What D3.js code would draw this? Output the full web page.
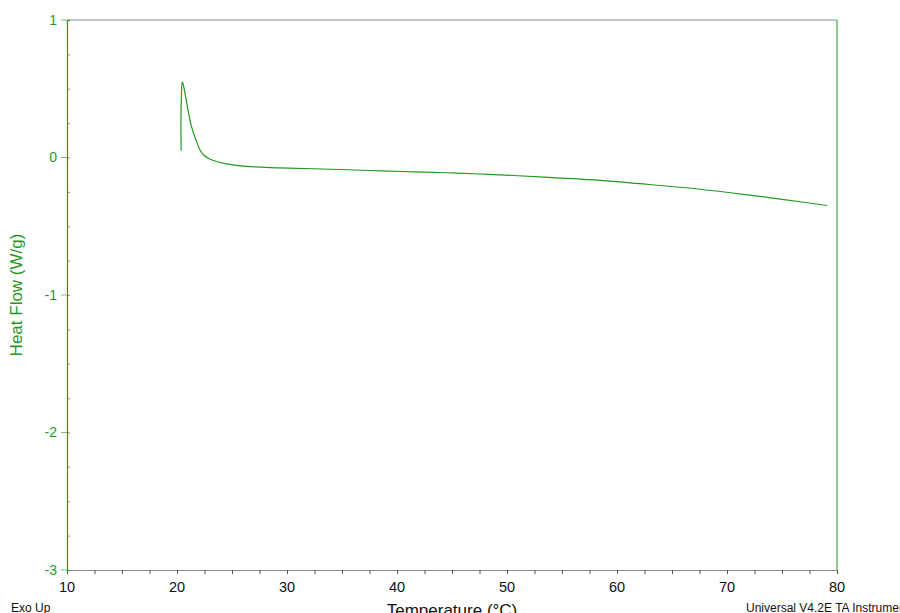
<!DOCTYPE html>
<html>
<head>
<meta charset="utf-8">
<script src="https://cdn.jsdelivr.net/npm/d3@7"></script>
<style>
  html, body { margin: 0; padding: 0; background: #fff; overflow: hidden; }
  svg { display: block; font-family: Arial, "Liberation Sans", sans-serif; }
</style>
</head>
<body>
<svg id="chart" width="900" height="613"></svg>
<script>
// DSC trace — temperature (°C) vs heat flow (W/g)
const temperature = [20.38, 20.36, 20.40, 20.48, 20.6, 20.9, 21.3, 21.8, 22.1, 22.4, 22.8, 23.3, 24.5, 26.3, 29.4, 32.4, 35.5, 38.5, 41.5, 44.5, 47.5, 50.6, 54.5, 58.5, 62, 66, 70.5, 75, 79.1];
const heatFlow    = [0.05, 0.25, 0.44, 0.55, 0.52, 0.39, 0.23, 0.11, 0.055, 0.02, -0.004, -0.022, -0.046, -0.065, -0.075, -0.082, -0.089, -0.097, -0.104, -0.111, -0.12, -0.131, -0.148, -0.167, -0.19, -0.218, -0.258, -0.304, -0.349];

const xTicks = [10, 20, 30, 40, 50, 60, 70, 80];
const yTicks = [1, 0, -1, -2, -3];

const GREEN = '#1f9a1f';
const GRAY = '#8c8c8c';

const svg = d3.select('#chart');
const margin = { top: 20, left: 67, right: 63, bottom: 43 };
const W = 900, H = 613;
const iW = W - margin.left - margin.right, iH = H - margin.top - margin.bottom;

const x = d3.scaleLinear().domain([10, 80]).range([margin.left, margin.left + iW]);
const y = d3.scaleLinear().domain([-3, 1]).range([margin.top + iH, margin.top]);

const g = svg.append('g');

// 테두리: 위/아래 회색, 좌/우 녹색
g.append('line').attr('x1', x(10)).attr('x2', x(80)).attr('y1', y(1)).attr('y2', y(1)).attr('stroke', GRAY).attr('stroke-width', 1.2);
g.append('line').attr('x1', x(80)).attr('x2', x(80)).attr('y1', y(1)).attr('y2', y(-3)).attr('stroke', GREEN).attr('stroke-width', 1);

// X axis
const xAxis = g.append('g').attr('transform', `translate(0,${y(-3)})`);
xAxis.call(d3.axisBottom(x).tickValues(d3.range(10, 80.01, 2.5)).tickSize(4).tickFormat(''));
xAxis.select('.domain').attr('stroke', GRAY).attr('stroke-width', 1.2);
xAxis.selectAll('.tick line').attr('stroke', '#555');
xAxis.selectAll('.lbl').data(xTicks).join('text')
  .attr('x', d => x(d)).attr('y', 22).attr('text-anchor', 'middle')
  .attr('fill', '#111').attr('font-size', 14.5).text(d => d);

// Y axis
const yAxis = g.append('g').attr('transform', `translate(${x(10)},0)`);
yAxis.call(d3.axisRight(y).tickValues(d3.range(-3, 1.01, 0.25)).tickSize(3).tickFormat(''));
yAxis.select('.domain').attr('stroke', GREEN).attr('stroke-width', 1.2);
yAxis.selectAll('.tick line').attr('stroke', GREEN).attr('stroke-opacity', 0.7);
yAxis.selectAll('.maj').data(yTicks).join('line')
  .attr('x1', -6).attr('x2', 0).attr('y1', d => y(d)).attr('y2', d => y(d))
  .attr('stroke', GREEN).attr('stroke-opacity', 0.6);
yAxis.selectAll('.lbl').data(yTicks).join('text')
  .attr('x', -10).attr('y', d => y(d)).attr('dy', '0.35em').attr('text-anchor', 'end')
  .attr('fill', GREEN).attr('font-size', 14).text(d => d);

// Curve
const pts = temperature.map((t, i) => [t, heatFlow[i]]);
g.append('path').datum(pts)
  .attr('d', d3.line().x(d => x(d[0])).y(d => y(d[1])).curve(d3.curveCatmullRom.alpha(0.5)))
  .attr('fill', 'none').attr('stroke', GREEN).attr('stroke-width', 1.2);

// Labels
svg.append('text').attr('transform', `translate(22,${y(-1)}) rotate(-90)`)
  .attr('text-anchor', 'middle').attr('fill', GREEN).attr('font-size', 17).text('Heat Flow (W/g)');
svg.append('text').attr('x', 452).attr('y', 616).attr('text-anchor', 'middle')
  .attr('fill', '#111').attr('font-size', 17).text('Temperature (°C)');
svg.append('text').attr('x', 11).attr('y', 612)
  .attr('fill', '#111').attr('font-size', 12).text('Exo Up');
svg.append('text').attr('x', 746).attr('y', 612)
  .attr('fill', '#111').attr('font-size', 12).text('Universal V4.2E TA Instruments');
</script>
</body>
</html>
